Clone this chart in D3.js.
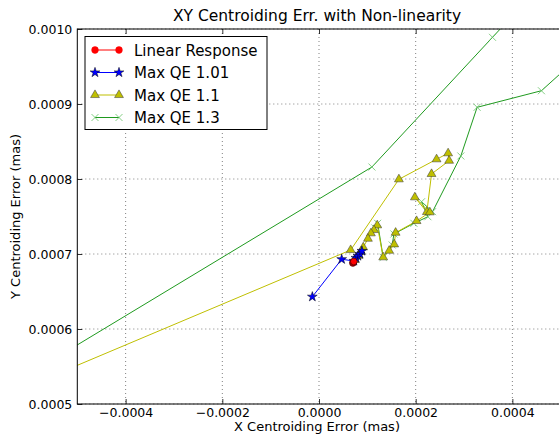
<!DOCTYPE html>
<html><head><meta charset="utf-8">
<script src="https://cdn.jsdelivr.net/npm/d3@7"></script>
<style>body{margin:0;background:#fff;} svg{display:block;font-family:"DejaVu Sans",sans-serif;}</style>
</head><body>
<script>
const title = "XY Centroiding Err. with Non-linearity";
const xLabel = "X Centroiding Error (mas)";
const yLabel = "Y Centroiding Error (mas)";
const xTicks = [-0.0004, -0.0002, 0.0000, 0.0002, 0.0004];
const xTickLabels = ["\u22120.0004", "\u22120.0002", "0.0000", "0.0002", "0.0004"];
const yTicks = [0.0005, 0.0006, 0.0007, 0.0008, 0.0009, 0.0010];
const yTickLabels = ["0.0005", "0.0006", "0.0007", "0.0008", "0.0009", "0.0010"];
const seriesNames = ["Linear Response", "Max QE 1.01", "Max QE 1.1", "Max QE 1.3"];

const linearX = [7.0e-5, 7.1e-5, 7.2e-5];
const linearY = [0.000688, 0.000689, 0.000690];

const qe101X = [-1.38e-5, 4.69e-5, 7.23e-5, 7.64e-5, 8.06e-5, 8.47e-5, 8.88e-5];
const qe101Y = [0.000643, 0.000693, 0.0006907, 0.0006947, 0.0006973, 0.0007, 0.000704];

const qe11X = [-0.0008, 6.55e-5, 1.653e-4, 2.432e-4, 2.671e-4, 2.692e-4, 2.328e-4, 2.231e-4, 1.983e-4, 2.293e-4,
  2.019e-4, 1.585e-4, 1.556e-4, 1.452e-4, 1.328e-4, 1.205e-4, 1.136e-4, 1.074e-4, 1.012e-4, 9.15e-5, 8.68e-5, 8.2e-5, 7.44e-5];
const qe11Y = [0.00047, 0.0007053, 0.0007996, 0.0008263, 0.0008343, 0.0008244, 0.0008067, 0.000756, 0.0007756, 0.0007556,
  0.000744, 0.0007284, 0.0007129, 0.0007044, 0.0006956, 0.0007383, 0.000732, 0.0007276, 0.0007204, 0.0007089, 0.0007031, 0.0006977, 0.000692];

const qe13X = [-0.0008, 1.095e-4, 3.589e-4, 5.806e-4, 6.219e-4, 4.601e-4, 3.271e-4, 2.934e-4, 2.349e-4, 2.122e-4,
  2.252e-4, 1.963e-4, 1.55e-4, 1.514e-4, 1.328e-4, 1.213e-4, 1.157e-4];
const qe13Y = [0.000462, 0.000816, 0.0009889, 0.0011427, 0.0010117, 0.0009177, 0.0008956, 0.0008307, 0.0007564, 0.0007697,
  0.0007497, 0.0007409, 0.0007267, 0.000712, 0.0006956, 0.0007409, 0.0007347];

const W = 559, H = 439;
const L = 77.3, R = 560.7, T = 29, B = 404;
const x = d3.scaleLinear().domain([-0.0005, 0.0005]).range([L, R]);
const y = d3.scaleLinear().domain([0.0005, 0.0010]).range([B, T]);

const svg = d3.select("body").append("svg").attr("width", W).attr("height", H);
svg.append("defs").append("clipPath").attr("id", "clip")
  .append("rect").attr("x", L).attr("y", T).attr("width", R - L).attr("height", B - T);

// grid
const grid = svg.append("g");
xTicks.forEach(t => grid.append("line").attr("x1", x(t)).attr("x2", x(t)).attr("y1", T).attr("y2", B)
  .attr("stroke", "#000").attr("stroke-width", 0.5).attr("stroke-dasharray", "1,3"));
yTicks.forEach(t => grid.append("line").attr("x1", L).attr("x2", R).attr("y1", y(t)).attr("y2", y(t))
  .attr("stroke", "#000").attr("stroke-width", 0.5).attr("stroke-dasharray", "1,3"));

// axes with inward ticks
const ax = svg.append("g");
ax.append("g").attr("transform", `translate(0,${B})`)
  .call(d3.axisBottom(x).tickValues(xTicks).tickSize(-5).tickPadding(4).tickFormat((d, i) => xTickLabels[i]))
  .call(g => g.select(".domain").remove());
ax.append("g").attr("transform", `translate(0,${T})`)
  .call(d3.axisTop(x).tickValues(xTicks).tickSize(-5).tickFormat(""))
  .call(g => g.select(".domain").remove());
ax.append("g").attr("transform", `translate(${L},0)`)
  .call(d3.axisLeft(y).tickValues(yTicks).tickSize(-5).tickPadding(5).tickFormat((d, i) => yTickLabels[i]))
  .call(g => g.select(".domain").remove());
ax.selectAll(".tick text").attr("font-size", "12.5px").attr("fill", "#000").attr("font-family", "DejaVu Sans");
ax.selectAll(".tick line").attr("stroke", "#000").attr("stroke-width", 0.8);

// data
const plot = svg.append("g").attr("clip-path", "url(#clip)");
function pts(xs, ys) { return xs.map((v, i) => [v, ys[i]]); }
const line = d3.line().x(d => x(d[0])).y(d => y(d[1]));
const star = d3.symbol().type(d3.symbolStar).size(30);
const tri = d3.symbol().type(d3.symbolTriangle).size(34);
const circ = d3.symbol().type(d3.symbolCircle).size(36);

function drawSeries(g, data, color, marker, fill, edge, edgeW) {
  g.append("path").datum(data).attr("d", line).attr("fill", "none").attr("stroke", color).attr("stroke-width", 1);
  g.selectAll(null).data(data).enter().append("path")
    .attr("d", marker)
    .attr("transform", d => `translate(${x(d[0])},${y(d[1])})`)
    .attr("fill", fill).attr("stroke", edge).attr("stroke-width", edgeW);
}
const xMark = "M-3.5,-3.5L3.5,3.5M-3.5,3.5L3.5,-3.5";
drawSeries(plot, pts(qe13X, qe13Y), "#1f9a1f", xMark, "none", "#66c266", 0.8);
drawSeries(plot, pts(qe11X, qe11Y), "#bfbf00", tri(), "#bfbf00", "#333", 0.5);
drawSeries(plot, pts(qe101X, qe101Y), "#0000ff", star(), "#0000ff", "#000", 0.5);
drawSeries(plot, pts(linearX, linearY), "#ff0000", circ(), "#ff0000", "#000", 0.5);

// frame
svg.append("rect").attr("x", L).attr("y", T).attr("width", R - L).attr("height", B - T)
  .attr("fill", "none").attr("stroke", "#000").attr("stroke-width", 1);

// title and labels
svg.append("text").attr("x", (L + R) / 2 - 2).attr("y", 21).attr("text-anchor", "middle")
  .attr("font-size", "15.5px").text(title);
svg.append("text").attr("x", (L + R) / 2 - 2).attr("y", 431).attr("text-anchor", "middle")
  .attr("font-size", "13px").text(xLabel);
svg.append("text").attr("transform", `translate(20,${(T + B) / 2}) rotate(-90)`).attr("text-anchor", "middle")
  .attr("font-size", "13px").text(yLabel);

// legend
const lg = svg.append("g");
lg.append("rect").attr("x", 85).attr("y", 36.5).attr("width", 182).attr("height", 93)
  .attr("fill", "#fff").attr("stroke", "#000").attr("stroke-width", 1);
const legendStyles = [
  {color: "#ff0000", marker: circ(), fill: "#ff0000", edge: "#ff0000", w: 0.5},
  {color: "#0000ff", marker: star(), fill: "#0000ff", edge: "#000", w: 0.5},
  {color: "#bfbf00", marker: tri(), fill: "#bfbf00", edge: "#333", w: 0.5},
  {color: "#1f9a1f", marker: xMark, fill: "none", edge: "#66c266", w: 0.8}
];
seriesNames.forEach((name, i) => {
  const yy = 50 + i * 22.5;
  const s = legendStyles[i];
  lg.append("line").attr("x1", 95).attr("x2", 119).attr("y1", yy).attr("y2", yy)
    .attr("stroke", s.color).attr("stroke-width", 1);
  [95, 119].forEach(xx => lg.append("path").attr("d", s.marker).attr("transform", `translate(${xx},${yy})`)
    .attr("fill", s.fill).attr("stroke", s.edge).attr("stroke-width", s.w));
  lg.append("text").attr("x", 134).attr("y", yy + 5.5).attr("font-size", "15px").text(name);
});
</script>
</body></html>
